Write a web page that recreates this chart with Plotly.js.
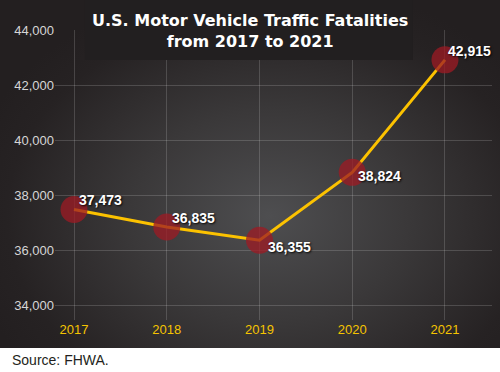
<!DOCTYPE html>
<html>
<head>
<meta charset="utf-8">
<script src="https://cdn.plot.ly/plotly-3.0.1.min.js"></script>
<style>
  html, body { margin: 0; padding: 0; background: #ffffff; }
  #chart {
    width: 500px; height: 372px;
    background:
      radial-gradient(ellipse 62% 68% at 54% 62%, #4e4e50 0%, #3a3839 45%, #262223 85%, #231f20 100%) top left / 500px 348px no-repeat,
      #ffffff;
  }
</style>
</head>
<body>
<div id="chart"></div>
<script>
// Data
const years = [2017, 2018, 2019, 2020, 2021];
const fatalities = [37473, 36835, 36355, 38824, 42915];
const valueLabels = ["37,473", "36,835", "36,355", "38,824", "42,915"];
const yTickVals = [34000, 36000, 38000, 40000, 42000, 44000];
const yTickText = ["34,000", "36,000", "38,000", "40,000", "42,000", "44,000"];
const xTickText = ["2017", "2018", "2019", "2020", "2021"];
const chartTitle = 'U.S. Motor Vehicle Traffic Fatalities<br>from 2017 to 2021';
// label offsets in pixels (xshift, yshift)
const labelShift = [[3, 10], [3, 9], [6, -7], [4, -4], [1, 9]];

const lineTrace = {
  x: years, y: fatalities, type: 'scatter', mode: 'lines',
  line: { color: '#fcc200', width: 3 },
  hoverinfo: 'skip', showlegend: false
};
const markerTrace = {
  x: years, y: fatalities, type: 'scatter', mode: 'markers',
  marker: { size: 27, color: '#9c1a24', opacity: 0.76, line: { width: 0 } },
  hoverinfo: 'skip', showlegend: false
};

const annotations = years.map((yr, i) => ({
  x: yr, y: fatalities[i], xref: 'x', yref: 'y',
  text: valueLabels[i], showarrow: false,
  xanchor: 'left', yanchor: 'middle',
  xshift: labelShift[i][0], yshift: labelShift[i][1],
  font: { family: 'Liberation Sans, Arial, sans-serif', size: 14, color: '#ffffff', weight: 'bold',
          shadow: '1px 1px 2px rgba(0,0,0,0.9)' }
}));
annotations.push({
  x: 0, y: 0, xref: 'paper', yref: 'paper', yshift: -40, xshift: -45,
  text: 'Source: FHWA.', showarrow: false, xanchor: 'left', yanchor: 'middle',
  font: { family: 'Liberation Sans, Arial, sans-serif', size: 14, color: '#231f20' }
});
annotations.push({
  x: 0.5, y: 1, xref: 'paper', yref: 'paper', yshift: 21, xshift: -24,
  text: chartTitle, showarrow: false, xanchor: 'center', yanchor: 'top',
  font: { family: 'DejaVu Sans, sans-serif', size: 16, color: '#ffffff', weight: 'bold' }
});

const layout = {
  width: 500, height: 372,
  margin: { l: 55, r: 8, t: 30, b: 52 },
  paper_bgcolor: 'rgba(0,0,0,0)',
  plot_bgcolor: 'rgba(0,0,0,0)',
  xaxis: {
    range: [2016.795, 2021.507],
    tickvals: years, ticktext: xTickText,
    showgrid: true, gridcolor: 'rgba(255,255,255,0.16)', gridwidth: 1,
    zeroline: false, showline: false, ticks: '',
    tickfont: { family: 'Liberation Sans, Arial, sans-serif', size: 13, color: '#f5c400' },
    fixedrange: true
  },
  yaxis: {
    range: [33455, 44000],
    tickvals: yTickVals, ticktext: yTickText,
    showgrid: true, gridcolor: 'rgba(255,255,255,0.16)', gridwidth: 1,
    zeroline: false, showline: false, ticks: '',
    tickfont: { family: 'Liberation Sans, Arial, sans-serif', size: 13, color: '#d6d6d6' },
    fixedrange: true
  },
  shapes: [{
    type: 'rect', xref: 'paper', yref: 'paper', layer: 'above',
    x0: 0.0686, x1: 0.819, y0: 0.8966, y1: 1.11,
    fillcolor: '#221f20', line: { width: 0 }
  }],
  annotations: annotations
};

Plotly.newPlot('chart', [lineTrace, markerTrace], layout, { displayModeBar: false, staticPlot: true });
</script>
</body>
</html>
